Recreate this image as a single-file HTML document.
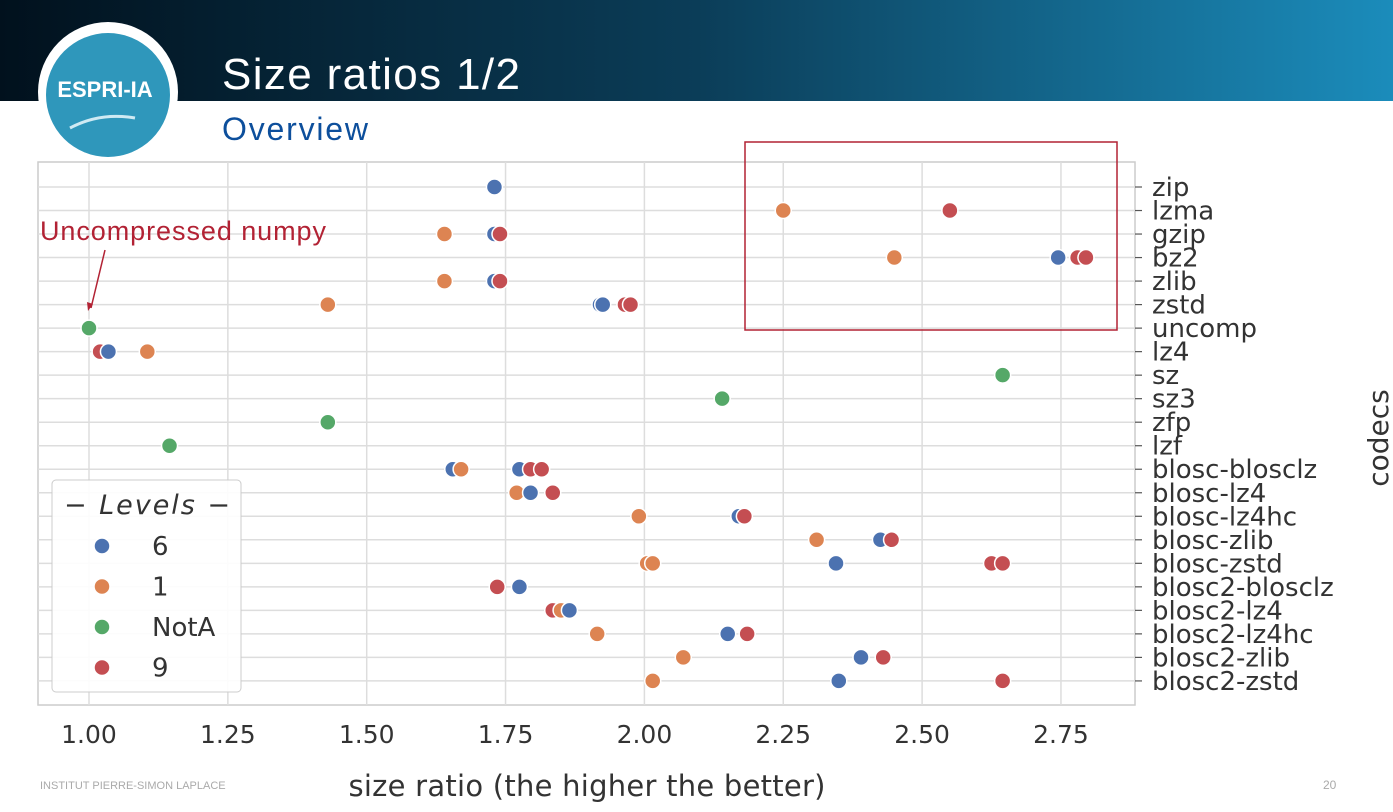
<!DOCTYPE html>
<html><head><meta charset="utf-8"><style>
body{margin:0;width:1393px;height:807px;overflow:hidden;background:#fff;font-family:"Liberation Sans",sans-serif}
.dj{font-family:"DejaVu Sans",sans-serif}
</style></head><body>
<svg width="1393" height="807">
<defs><linearGradient id="hg" x1="0" x2="1"><stop offset="0" stop-color="#01111d"/><stop offset="0.5" stop-color="#0b3d58"/><stop offset="1" stop-color="#1b8cbb"/></linearGradient></defs>
<rect x="0" y="0" width="1393" height="101" fill="url(#hg)"/>
<g>
<circle cx="108" cy="92" r="70" fill="#fff"/><circle cx="108" cy="95" r="62" fill="#2f97bb"/>
<text x="105" y="97" text-anchor="middle" fill="#fff" font-size="22" font-weight="bold">ESPRI-IA</text>
<path d="M70 128 Q100 112 135 118" stroke="#cfeaf3" stroke-width="3" fill="none"/>
</g>
<text x="222" y="89" fill="#fff" font-size="44" textLength="298">Size ratios 1/2</text>
<text x="222" y="140" fill="#0d4f9c" font-size="32" textLength="146">Overview</text>
<g id="chart"></g>
<rect x="745" y="142" width="372" height="188" fill="none" stroke="#b22234" stroke-width="1.5"/>
<text x="40" y="240" fill="#b22234" font-size="27" textLength="286">Uncompressed numpy</text>
<line x1="105" y1="250" x2="91" y2="308" stroke="#b22234" stroke-width="1.5"/>
<path d="M88 311 L87 302 L93 304 Z" fill="#b22234"/>
<text class="dj" x="1388" y="438" transform="rotate(-90 1388 438)" text-anchor="middle" fill="#333" font-size="28">codecs</text>
<text class="dj" x="587" y="796" text-anchor="middle" fill="#333" font-size="29" textLength="477">size ratio (the higher the better)</text>
<text x="40" y="789" fill="#aaa" font-size="11">INSTITUT PIERRE-SIMON LAPLACE</text>
<text x="1323" y="789" fill="#aaa" font-size="12">20</text>
<g>
<rect x="52" y="480" width="189" height="212" rx="4" fill="#fff" fill-opacity="0.9" stroke="#ccc"/>
<text class="dj" x="64" y="514" fill="#333" font-size="27" font-style="italic" textLength="166">− Levels −</text>
<g id="leg"></g>
</g>
</svg>
<script>
const codecs=["zip","lzma","gzip","bz2","zlib","zstd","uncomp","lz4","sz","sz3","zfp","lzf","blosc-blosclz","blosc-lz4","blosc-lz4hc","blosc-zlib","blosc-zstd","blosc2-blosclz","blosc2-lz4","blosc2-lz4hc","blosc2-zlib","blosc2-zstd"];
const levels=["6","1","NotA","9"];
const xTicks=[1.00,1.25,1.50,1.75,2.00,2.25,2.50,2.75];
const ptCodec=["zip","lzma","lzma","gzip","gzip","gzip","bz2","bz2","bz2","bz2","zlib","zlib","zlib","zstd","zstd","zstd","zstd","zstd","uncomp","lz4","lz4","lz4","sz","sz3","zfp","lzf","blosc-blosclz","blosc-blosclz","blosc-blosclz","blosc-blosclz","blosc-blosclz","blosc-lz4","blosc-lz4","blosc-lz4","blosc-lz4hc","blosc-lz4hc","blosc-lz4hc","blosc-zlib","blosc-zlib","blosc-zlib","blosc-zstd","blosc-zstd","blosc-zstd","blosc-zstd","blosc-zstd","blosc2-blosclz","blosc2-blosclz","blosc2-lz4","blosc2-lz4","blosc2-lz4","blosc2-lz4hc","blosc2-lz4hc","blosc2-lz4hc","blosc2-zlib","blosc2-zlib","blosc2-zlib","blosc2-zstd","blosc2-zstd","blosc2-zstd"];
const ptLevel=["6","1","9","1","6","9","1","6","9","9","1","6","9","1","6","6","9","9","NotA","9","6","1","NotA","NotA","NotA","NotA","6","1","6","9","9","1","6","9","1","6","9","1","6","9","1","1","6","9","9","9","6","9","1","6","1","6","9","1","6","9","1","6","9"];
const ptValue=[1.73,2.25,2.55,1.64,1.73,1.74,2.45,2.745,2.78,2.795,1.64,1.73,1.74,1.43,1.92,1.925,1.965,1.975,1.00,1.02,1.035,1.105,2.645,2.14,1.43,1.145,1.655,1.67,1.775,1.795,1.815,1.77,1.795,1.835,1.99,2.17,2.18,2.31,2.425,2.445,2.005,2.015,2.345,2.625,2.645,1.735,1.775,1.835,1.85,1.865,1.915,2.15,2.185,2.07,2.39,2.43,2.015,2.35,2.645];
const colors={"6":"#4c72b0","1":"#dd8452","NotA":"#55a868","9":"#c44e52"};
const NS="http://www.w3.org/2000/svg";
const L=38,R=1135,T=162,B=705;
const xs=v=>89+(v-1)*555.4;
const ys=i=>187+i*23.52;
const g=document.getElementById('chart');
function mk(t,a,p){const e=document.createElementNS(NS,t);for(const k in a)e.setAttribute(k,a[k]);(p||g).appendChild(e);return e;}
const bg=mk('rect',{x:L,y:T,width:R-L,height:B-T,fill:'#fff',stroke:'#ccc','stroke-width':1.5});


xTicks.forEach(t=>{
const l=mk('line',{x1:xs(t),x2:xs(t),y1:T,y2:B,stroke:'#ddd','stroke-width':1.5});


const tx=mk('text',{x:xs(t),y:743,'text-anchor':'middle','font-size':25,fill:'#333','class':'dj'});
tx.textContent=t.toFixed(2);


});
codecs.forEach((c,i)=>{
const l=mk('line',{x1:L,x2:R,y1:ys(i),y2:ys(i),stroke:'#ddd','stroke-width':1.5});


mk('line',{x1:R,x2:R+7,y1:ys(i),y2:ys(i),stroke:'#555','stroke-width':1.2});
const tx=mk('text',{x:1152,y:ys(i)+9,'font-size':26,fill:'#333','class':'dj'});
tx.textContent=c;


});
ptValue.forEach((v,k)=>{
const i=codecs.indexOf(ptCodec[k]);
const c=mk('circle',{cx:xs(v),cy:ys(i),r:8,fill:colors[ptLevel[k]],stroke:'#fff','stroke-width':1.5});


});
const lg=document.getElementById('leg');
levels.forEach((lv,i)=>{
const y=546+i*40.5;
const c=mk('circle',{cx:102,cy:y,r:8,fill:colors[lv],stroke:'#fff','stroke-width':1.5},lg);


const t=mk('text',{x:152,y:y+9,'font-size':26,fill:'#333','class':'dj'},lg);
t.textContent=lv;


});
</script>
</body></html>
